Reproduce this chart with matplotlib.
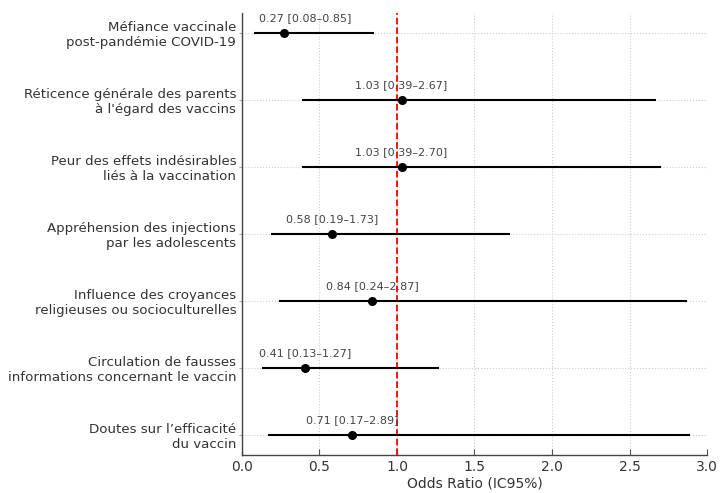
import matplotlib
matplotlib.use("Agg")
import matplotlib.pyplot as plt
import numpy as np

# --------- DONNEES ---------
facteurs = [
    "Méfiance vaccinale\npost-pandémie COVID-19",
    "Réticence générale des parents\nà l'égard des vaccins",
    "Peur des effets indésirables\nliés à la vaccination",
    "Appréhension des injections\npar les adolescents",
    "Influence des croyances\nreligieuses ou socioculturelles",
    "Circulation de fausses\ninformations concernant le vaccin",
    "Doutes sur l’efficacité\ndu vaccin",
]
odds_ratio = [0.27, 1.03, 1.03, 0.58, 0.84, 0.41, 0.71]
ic_bas = [0.08, 0.39, 0.39, 0.19, 0.24, 0.13, 0.17]
ic_haut = [0.85, 2.67, 2.70, 1.73, 2.87, 1.27, 2.89]

# --------- GRAPHIQUE ---------
fig = plt.figure(figsize=(7.2, 4.93), dpi=100)
ax = fig.add_axes([0.336, 0.077, 0.646, 0.897])

y = np.arange(len(facteurs))

ax.hlines(y, ic_bas, ic_haut, color="black", linewidth=1.5, zorder=3)
ax.plot(odds_ratio, y, "o", color="black", markersize=5.5, zorder=4)
ax.axvline(1, color="red", linestyle="--", linewidth=1.3, zorder=2)

for yi, o, lo, hi in zip(y, odds_ratio, ic_bas, ic_haut):
    xt = max(o, 0.41)  # garder le texte dans le cadre
    ax.text(xt, yi - 0.14, f"{o:.2f} [{lo:.2f}–{hi:.2f}]",
            ha="center", va="bottom", fontsize=8, color="#444444", zorder=5)

ax.set_yticks(y)
ax.set_yticklabels(facteurs, fontsize=9.6, color="#333333")
ax.set_ylim(len(facteurs) - 0.7, -0.3)
ax.set_xlim(0, 3)
ax.set_xticks(np.arange(0, 3.01, 0.5))
ax.tick_params(axis="x", direction="in", labelsize=10, labelcolor="#333333",
               color="#555555", length=4)
ax.tick_params(axis="y", direction="out", color="#aaaaaa", length=2, pad=2)
ax.set_xlabel("Odds Ratio (IC95%)", fontsize=10, color="#333333", labelpad=2)

ax.grid(True, linestyle=":", color="#cccccc", linewidth=0.8, zorder=0)
ax.set_axisbelow(True)
for s in ["top", "right"]:
    ax.spines[s].set_visible(False)
for s in ["left", "bottom"]:
    ax.spines[s].set_color("#444444")
    ax.spines[s].set_linewidth(1.0)

fig.savefig("out.png", dpi=100)
